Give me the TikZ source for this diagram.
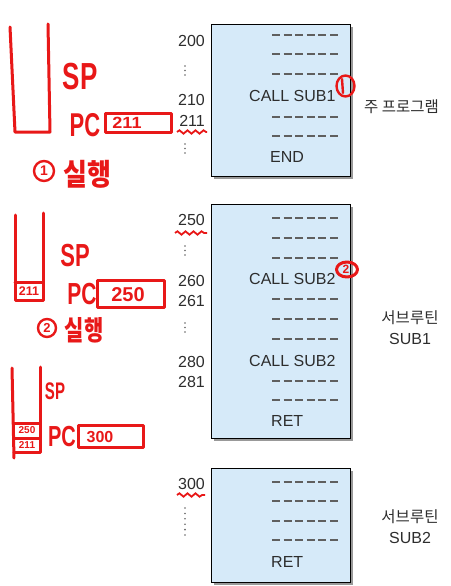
\documentclass[tikz,border=0pt]{standalone}
\usepackage{fontspec}
\setmainfont{Liberation Sans}
\newfontfamily\kr{Noto Sans CJK KR}
\usetikzlibrary{decorations.pathmorphing}
\definecolor{boxfill}{RGB}{214,234,249}
\definecolor{txt}{RGB}{45,45,45}
\definecolor{hand}{RGB}{232,24,24}
\definecolor{dashc}{RGB}{95,95,95}
\begin{document}
\begin{tikzpicture}[x=1pt,y=-1pt,
  mem/.style={draw=black,line width=1pt,fill=boxfill,anchor=north west,inner sep=0pt},
  shade/.style={fill=black!40},
  lbl/.style={font=\fontsize{16}{16}\selectfont,text=txt,inner sep=0pt},
  krl/.style={font=\kr\fontsize{15.5}{15.5}\selectfont,text=txt,inner sep=0pt},
  dashline/.style={draw=dashc,line width=1.1pt,dash pattern=on 8pt off 3.6pt},
  hand/.style={draw=hand,line width=3pt,line cap=round,line join=round},
  handtxt/.style={text=hand,inner sep=0pt,font=\bfseries},
  wave/.style={draw=hand,line width=1.8pt,decorate,decoration={snake,segment length=8pt,amplitude=1.7pt}},
  vdot/.style={fill=black!60}]
\useasboundingbox (0,0) rectangle (450,586);

% ---------- memory boxes ----------
\fill[shade] (214,27) rectangle (353,179);
\node[mem,minimum width=139pt,minimum height=152pt] (main) at (211,24) {};
\fill[shade] (214,207) rectangle (353,441);
\node[mem,minimum width=139pt,minimum height=234pt] (sub1) at (211,204) {};
\fill[shade] (214,471) rectangle (353,585);
\node[mem,minimum width=139pt,minimum height=114pt] (sub2) at (211,468) {};

% ---------- box 1 contents ----------
\foreach \y in {35,54,74,117,136} \draw[dashline] (272,\y) -- (338,\y);
\node[lbl,anchor=west] (call1) at (249,96) {CALL SUB1};
\node[lbl,anchor=west] (end) at (270,157) {END};
\node[lbl,anchor=east] (a200) at (205,41) {200};
\node[lbl,anchor=east] (a210) at (205,100) {210};
\node[lbl,anchor=east] (a211) at (205,121) {211};
\foreach \y in {66,70.5,75,144,148.5,153} \fill[vdot] (185,\y) circle (0.9pt);
\node[krl,anchor=west] (mainlbl) at (364,107) {주 프로그램};

% ---------- box 2 contents ----------
\foreach \y in {218,238,258,299,319,339,381,400} \draw[dashline] (272,\y) -- (338,\y);
\node[lbl,anchor=west] (call2a) at (249,279) {CALL SUB2};
\node[lbl,anchor=west] (call2b) at (249,361) {CALL SUB2};
\node[lbl,anchor=west] (ret1) at (271,421) {RET};
\node[lbl,anchor=east] (a250) at (205,220) {250};
\node[lbl,anchor=east] (a260) at (205,281) {260};
\node[lbl,anchor=east] (a261) at (205,301) {261};
\node[lbl,anchor=east] (a280) at (205,362) {280};
\node[lbl,anchor=east] (a281) at (205,382) {281};
\foreach \y in {246,250.5,255,323,327.5,332} \fill[vdot] (185,\y) circle (0.9pt);
\node[krl] (sub1lbl) at (410,318) {서브루틴};
\node[lbl] (sub1name) at (410,339) {SUB1};

% ---------- box 3 contents ----------
\foreach \y in {482,501,521,540} \draw[dashline] (272,\y) -- (338,\y);
\node[lbl,anchor=west] (ret2) at (271,562) {RET};
\node[lbl,anchor=east] (a300) at (205,484) {300};
\foreach \y in {508,513.4,518.8,524.2,529.6,535} \fill[vdot] (185,\y) circle (0.9pt);
\node[krl] (sub2lbl) at (410,517) {서브루틴};
\node[lbl] (sub2name) at (410,538) {SUB2};

% ---------- red annotations: step 1 ----------
\draw[hand] (10,27) -- (15,132) -- (50,132) -- (48,24);
\node[handtxt,font=\bfseries\fontsize{26}{26}\selectfont,yscale=1.45] (sp1) at (80,77) {SP};
\node[handtxt,font=\bfseries\fontsize{22}{22}\selectfont,yscale=1.5] (pc1) at (85,125) {PC};
\draw[hand] (105,113) rectangle (171,132);
\node[handtxt,font=\bfseries\fontsize{18}{18}\selectfont,yscale=0.9] (pcv1) at (127,122.5) {211};
\draw[hand,line width=2.4pt] (44,171) circle (10pt);
\node[handtxt,font=\bfseries\fontsize{14}{14}\selectfont] (n1) at (44,171) {1};
\node[handtxt,font=\kr\bfseries\fontsize{26}{26}\selectfont,yscale=1.15] (run1) at (87,174) {실행};
\draw[wave] (177,132) -- (207,132);
\draw[hand,line width=2.4pt] (345.5,86) ellipse (9pt and 10.5pt);
\draw[hand,line width=2.4pt] (342,79) -- (343,93);

% ---------- red annotations: step 2 ----------
\draw[hand] (15,215) -- (15,300) -- (43,300) -- (43,213);
\draw[hand] (15,282) -- (43,282);
\node[handtxt,font=\bfseries\fontsize{12.5}{12.5}\selectfont] (st21) at (29,291) {211};
\node[handtxt,font=\bfseries\fontsize{22}{22}\selectfont,yscale=1.45] (sp2) at (75,256) {SP};
\node[handtxt,font=\bfseries\fontsize{21}{21}\selectfont,yscale=1.45] (pc2) at (82,294) {PC};
\draw[hand] (97,280) rectangle (164,307);
\node[handtxt,font=\bfseries\fontsize{20}{20}\selectfont] (pcv2) at (128,294.5) {250};
\draw[hand,line width=2.4pt] (47,328) circle (9pt);
\node[handtxt,font=\bfseries\fontsize{13}{13}\selectfont] (n2) at (47,328) {2};
\node[handtxt,font=\kr\bfseries\fontsize{21}{21}\selectfont,yscale=1.3] (run2) at (84,330) {실행};
\draw[wave] (175,233) -- (207,233);
\draw[hand,line width=3pt] (347,269.5) ellipse (10.5pt and 7.5pt);
\node[handtxt,font=\bfseries\fontsize{12}{12}\selectfont] (c2) at (346,269.5) {2};

% ---------- red annotations: step 3 ----------
\draw[hand] (12,368) -- (14,458);
\draw[hand] (40,367) -- (40,452) -- (14,452);
\draw[hand] (14,423) -- (40,423);
\draw[hand] (14,438) -- (40,438);
\node[handtxt,font=\bfseries\fontsize{10}{10}\selectfont] (st31) at (27,430.5) {250};
\node[handtxt,font=\bfseries\fontsize{10}{10}\selectfont] (st32) at (27,445) {211};
\node[handtxt,font=\bfseries\fontsize{15}{15}\selectfont,yscale=1.6] (sp3) at (55,391) {SP};
\node[handtxt,font=\bfseries\fontsize{20}{20}\selectfont,yscale=1.45] (pc3) at (62,437) {PC};
\draw[hand] (78,425) rectangle (143,447);
\node[handtxt,font=\bfseries\fontsize{16}{16}\selectfont] (pcv3) at (100,437) {300};
\draw[wave] (177,495) -- (205,495);
\end{tikzpicture}
\end{document}
